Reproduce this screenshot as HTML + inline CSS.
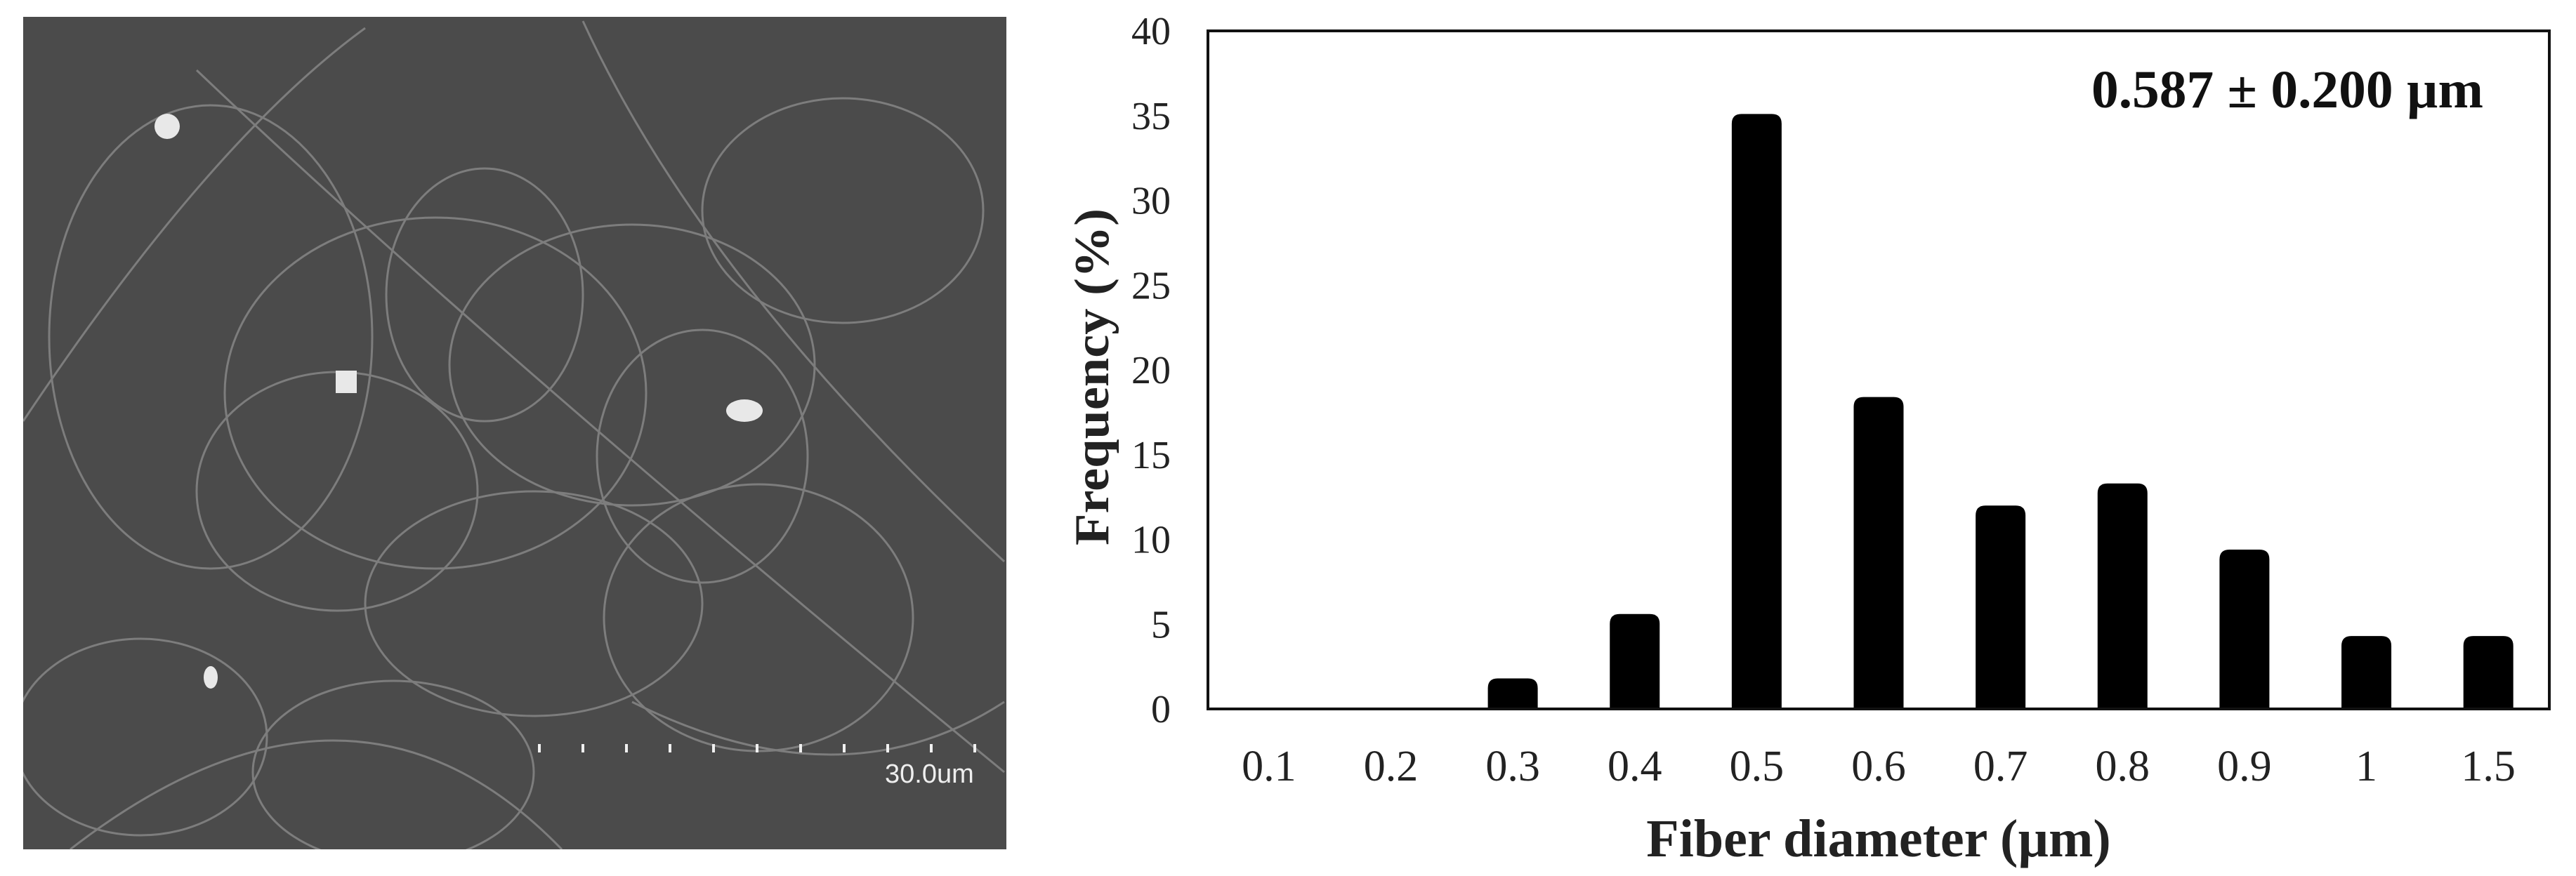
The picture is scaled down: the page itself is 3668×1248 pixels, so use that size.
<!DOCTYPE html>
<html><head><meta charset="utf-8"><style>
html,body{margin:0;padding:0;background:#fff;}
svg{display:block;}
text{font-family:"Liberation Serif","Times New Roman",serif;}
</style></head><body>
<svg id="fig" width="3668" height="1248" viewBox="0 0 3668 1248" xmlns="http://www.w3.org/2000/svg">
  <defs><clipPath id="semclip"><rect x="33" y="24" width="1400" height="1186"/></clipPath></defs>
  <g id="sem" clip-path="url(#semclip)">
    <rect x="33" y="24" width="1400" height="1186" fill="#4b4b4b"/>
    <g fill="none" stroke="#8a8a8a" stroke-width="3" opacity="0.8">
      <ellipse cx="620" cy="560" rx="300" ry="250"/>
      <ellipse cx="900" cy="520" rx="260" ry="200"/>
      <ellipse cx="480" cy="700" rx="200" ry="170"/>
      <ellipse cx="1080" cy="880" rx="220" ry="190"/>
      <ellipse cx="300" cy="480" rx="230" ry="330"/>
      <ellipse cx="1200" cy="300" rx="200" ry="160"/>
      <ellipse cx="760" cy="860" rx="240" ry="160"/>
      <ellipse cx="200" cy="1050" rx="180" ry="140"/>
      <ellipse cx="560" cy="1100" rx="200" ry="130"/>
      <ellipse cx="1000" cy="650" rx="150" ry="180"/>
      <ellipse cx="690" cy="420" rx="140" ry="180"/>
      <path d="M33 600 Q300 200 520 40"/>
      <path d="M280 100 Q700 500 1430 1100"/>
      <path d="M830 30 Q1000 400 1430 800"/>
      <path d="M100 1210 Q500 900 800 1210"/>
      <path d="M900 1000 Q1200 1150 1430 1000"/>
    </g>
    <g fill="#e8e8e8">
      <circle cx="238" cy="180" r="18"/>
      <rect x="478" y="528" width="30" height="32"/>
      <ellipse cx="1060" cy="585" rx="26" ry="16"/>
      <ellipse cx="300" cy="965" rx="10" ry="16"/>
    </g>
    <g stroke="#f0f0f0" stroke-width="4">
      <line x1="768" y1="1060" x2="768" y2="1072"/><line x1="830" y1="1060" x2="830" y2="1072"/>
      <line x1="892" y1="1060" x2="892" y2="1072"/><line x1="954" y1="1060" x2="954" y2="1072"/>
      <line x1="1016" y1="1060" x2="1016" y2="1072"/><line x1="1078" y1="1060" x2="1078" y2="1072"/>
      <line x1="1140" y1="1060" x2="1140" y2="1072"/><line x1="1202" y1="1060" x2="1202" y2="1072"/>
      <line x1="1264" y1="1060" x2="1264" y2="1072"/><line x1="1326" y1="1060" x2="1326" y2="1072"/>
      <line x1="1388" y1="1060" x2="1388" y2="1072"/>
    </g>
    <text x="1260" y="1115" fill="#eeeeee" font-size="38" style="font-family:'Liberation Sans',sans-serif">30.0um</text>
  </g>
  <g id="chart"></g>
</svg>
<script>
const categories = ["0.1","0.2","0.3","0.4","0.5","0.6","0.7","0.8","0.9","1","1.5"];
const frequencies = [0,0,1.8,5.6,35.1,18.4,12.0,13.3,9.4,4.3,4.3];
const yTicks = [0,5,10,15,20,25,30,35,40];
const annotationText = "0.587 \u00b1 0.200 \u00b5m";

const NS = "http://www.w3.org/2000/svg";
const L = 1720, R = 3630, T = 44, B = 1010, YMAX = 40;
const bw = (R - L) / categories.length;
const yS = v => B - (v / YMAX) * (B - T);
const xC = i => L + (i + 0.5) * bw;
const g = document.getElementById('chart');
function mk(tag, attrs) { const e = document.createElementNS(NS, tag); for (const k in attrs) e.setAttribute(k, attrs[k]); g.appendChild(e); return e; }

frequencies.forEach((v, i) => {
  if (v <= 0) return;
  const w = 71, x = xC(i) - w / 2, y = yS(v), h = B - y, r = Math.min(14, h / 2);
  const p = mk('path', { d: `M${x} ${B} L${x} ${y + r} Q${x} ${y} ${x + r} ${y} L${x + w - r} ${y} Q${x + w} ${y} ${x + w} ${y + r} L${x + w} ${B} Z`, fill: '#000' });
  
  
});

const frame = mk('rect', { x: L, y: T, width: R - L, height: B - T, fill: 'none', stroke: '#111', 'stroke-width': 4 });



yTicks.forEach(t => {
  const e = mk('text', { x: 1667, y: yS(t) + 19, 'text-anchor': 'end', 'font-size': 56, fill: '#222' });
  e.textContent = t;
  
  
});
categories.forEach((c, i) => {
  const e = mk('text', { x: xC(i), y: 1112, 'text-anchor': 'middle', 'font-size': 62, fill: '#222' });
  e.textContent = c;
  
  
});
const xt = mk('text', { x: (L + R) / 2, y: 1220, 'text-anchor': 'middle', 'font-size': 76, 'font-weight': 'bold', fill: '#222' });
xt.textContent = 'Fiber diameter (\u00b5m)';


const yt = mk('text', { x: 0, y: 0, 'text-anchor': 'middle', 'font-size': 70, 'font-weight': 'bold', fill: '#222', textLength: 480, lengthAdjust: 'spacingAndGlyphs', transform: `translate(1578 ${(T + B) / 2 + 10}) rotate(-90)` });
yt.textContent = 'Frequency (%)';


const an = mk('text', { x: 2978, y: 153, 'font-size': 76, 'font-weight': 'bold', fill: '#111', textLength: 558, lengthAdjust: 'spacingAndGlyphs' });
an.textContent = annotationText;


</script>
</body></html>
